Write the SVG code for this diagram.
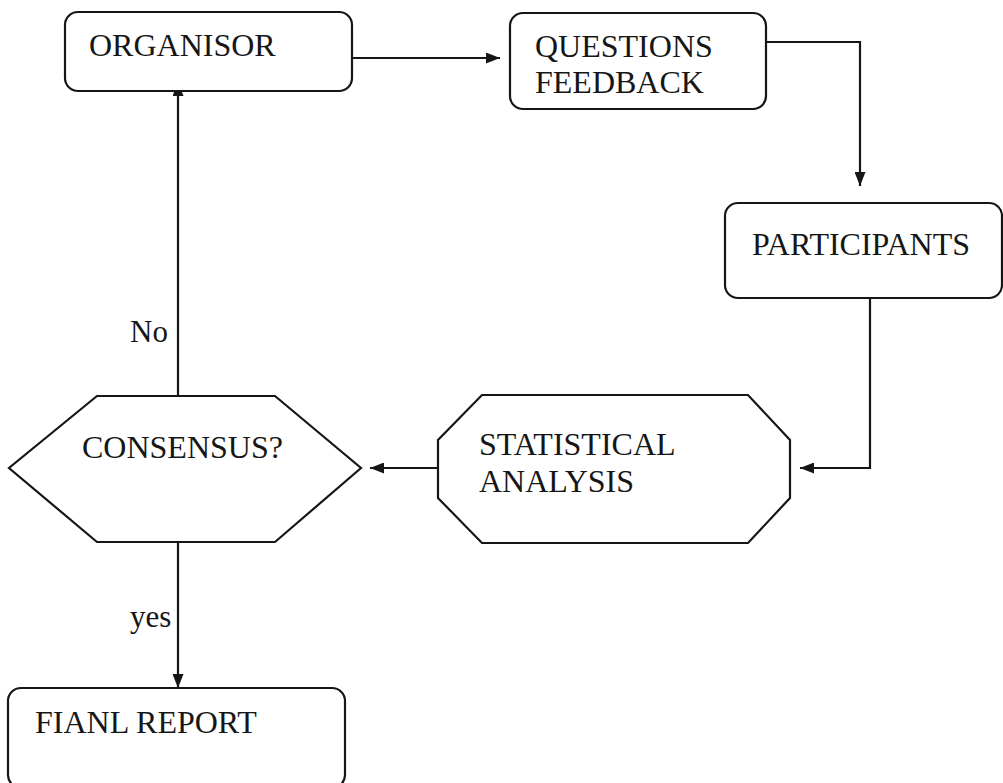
<svg xmlns="http://www.w3.org/2000/svg" width="1003" height="783" viewBox="0 0 1003 783">
  <style>
    .shape { fill: #ffffff; stroke: #161616; stroke-width: 2.2; }
    .label { font-family: "Liberation Serif", "Times New Roman", serif; font-size: 32px; fill: #161616; }
    .small { font-family: "Liberation Serif", "Times New Roman", serif; font-size: 31px; fill: #161616; }
    .wire { fill: none; stroke: #161616; stroke-width: 2.2; }
  </style>
  <defs>
    <marker id="arrow" viewBox="0 0 14 11" refX="14" refY="5.5" markerWidth="14" markerHeight="11" markerUnits="userSpaceOnUse" orient="auto">
      <path d="M0,0 L14,5.5 L0,11 Z" fill="#161616"/>
    </marker>
  </defs>
  <rect width="1003" height="783" fill="#ffffff"/>

  <!-- connectors and their labels -->
  <g id="connectors">
    <path class="wire" d="M343,58 H500" marker-end="url(#arrow)"/>
    <path class="wire" d="M766,42 H860 V186" marker-end="url(#arrow)"/>
    <path class="wire" d="M870,298 V468 H800" marker-end="url(#arrow)"/>
    <path class="wire" d="M448,468 H370" marker-end="url(#arrow)"/>
    <path class="wire" d="M178,396 V82" marker-end="url(#arrow)"/>
    <path class="wire" d="M178,542 V688" marker-end="url(#arrow)"/>
    <text class="small" x="130" y="342">No</text>
    <text class="small" x="130" y="627">yes</text>
  </g>

  <g id="organisor">
    <rect class="shape" x="65" y="12" width="287" height="79" rx="13"/>
    <text class="label" x="89" y="56">ORGANISOR</text>
  </g>

  <g id="questions-feedback">
    <rect class="shape" x="510" y="13" width="256" height="96" rx="13"/>
    <text class="label" x="535" y="57">QUESTIONS</text>
    <text class="label" x="535" y="93">FEEDBACK</text>
  </g>

  <g id="participants">
    <rect class="shape" x="725" y="203" width="277" height="95" rx="13"/>
    <text class="label" x="752" y="255">PARTICIPANTS</text>
  </g>

  <g id="statistical-analysis">
    <polygon class="shape" points="482,395 748,395 790,440 790,498 748,543 482,543 438,498 438,440"/>
    <text class="label" x="479" y="455">STATISTICAL</text>
    <text class="label" x="479" y="492">ANALYSIS</text>
  </g>

  <g id="consensus">
    <polygon class="shape" points="97,396 275,396 361,468 275,542 97,542 9,468"/>
    <text class="label" x="82" y="458">CONSENSUS?</text>
  </g>

  <g id="final-report">
    <rect class="shape" x="8" y="688" width="337" height="100" rx="13"/>
    <text class="label" x="35" y="733">FIANL REPORT</text>
  </g>
</svg>
